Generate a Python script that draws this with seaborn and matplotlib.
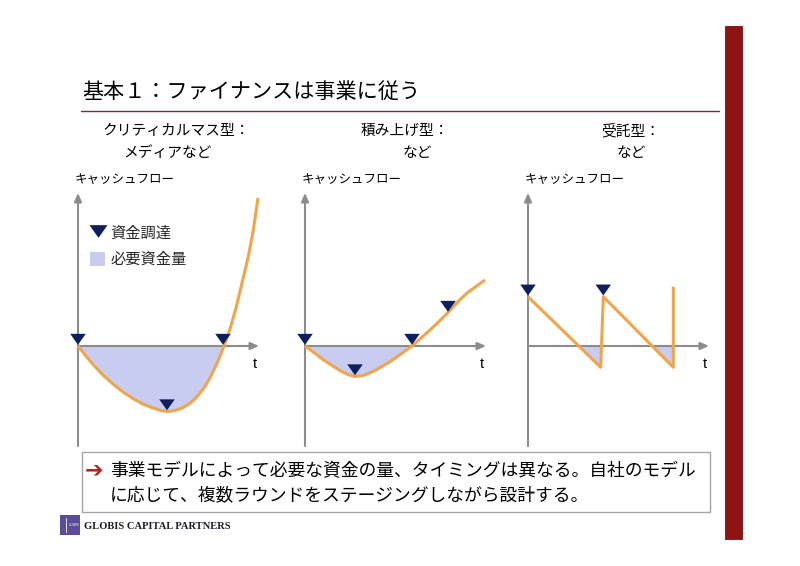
import numpy as np
import pandas as pd
import matplotlib
matplotlib.use("Agg")
import matplotlib.pyplot as plt
import seaborn as sns
from matplotlib.patches import Rectangle, Patch
from matplotlib.lines import Line2D
from matplotlib.path import Path
from matplotlib.markers import MarkerStyle

# ---------------- data ----------------
title_text = "基本１：ファイナンスは事業に従う"
panel_titles = ["クリティカルマス型：", "積み上げ型：", "受託型："]
panel_subtitles = ["メディアなど", "など", "など"]
y_label = "キャッシュフロー"
x_label = "t"
legend_labels = ["資金調達", "必要資金量"]
message_lines = [
    "事業モデルによって必要な資金の量、タイミングは異なる。自社のモデル",
    "に応じて、複数ラウンドをステージングしながら設計する。",
]
company = "GLOBIS CAPITAL PARTNERS"

# critical-mass type
crit_t = [0, 0.8, 1.6, 2.5, 3.5, 4.5, 5.5, 6.5, 7.5, 8.3, 9.0, 9.7, 10.4, 11.1,
          11.8, 12.6, 13.3, 14.0, 14.6, 15.2, 15.8, 16.4, 17.0, 17.5, 18.0]
crit_cf = [0, -1.0, -1.95, -2.9, -3.8, -4.6, -5.25, -5.8, -6.2, -6.45, -6.55, -6.45,
           -6.2, -5.8, -5.2, -4.2, -3.0, -1.5, 0, 1.7, 3.8, 6.3, 8.8, 11.4, 14.8]
crit_raise_t = [0, 8.9, 14.5]
crit_raise_cf = [0, -6.55, 0]

# stacking type
stack_t = [0, 0.9, 1.8, 2.7, 3.5, 4.3, 5.0, 5.8, 6.8, 7.7, 8.6, 9.6, 10.7, 11.6,
           12.5, 13.5, 14.4, 15.3, 16.2, 17.1, 18.0]
stack_cf = [0, -0.65, -1.35, -1.95, -2.45, -2.85, -3.05, -2.95, -2.55, -2.05, -1.5,
            -0.8, 0, 0.8, 1.6, 2.55, 3.45, 4.45, 5.3, 5.95, 6.6]
stack_raise_t = [0, 5.0, 10.7, 14.3]
stack_raise_cf = [0, -3.05, 0, 3.3]

# contract type
contract_t = [0, 7.27, 7.53, 14.53, 14.53]
contract_cf = [4.93, -2.13, 4.93, -2.13, 5.93]
contract_raise_t = [0, 7.53]
contract_raise_cf = [4.93, 4.93]

panels = [
    (crit_t, crit_cf, crit_raise_t, crit_raise_cf),
    (stack_t, stack_cf, stack_raise_t, stack_raise_cf),
    (contract_t, contract_cf, contract_raise_t, contract_raise_cf),
]

# ---------------- style ----------------
sns.set_style("white")
plt.rcParams["font.family"] = ["Noto Sans CJK JP", "DejaVu Sans"]

ORANGE = "#F0A54A"
FILL = "#C9CCF1"
NAVY = "#0E1F5E"
AXIS = "#8C8C8C"
DARKRED = "#8E1414"

W, H = 800, 566
fig = plt.figure(figsize=(8, 5.66), dpi=100)
fig.patch.set_facecolor("white")


def fx(x):
    return x / W


def fy(y):
    return 1 - y / H


# red vertical bar on the right
fig.patches.append(Rectangle((fx(724.5), fy(539)), 17 / W, (539 - 26) / H,
                             transform=fig.transFigure, facecolor=DARKRED,
                             edgecolor="#7a1010", lw=0.6, zorder=1))
# title + underline
fig.text(fx(82), fy(92), title_text, fontsize=15.2, ha="left", va="center", color="black")
fig.add_artist(Line2D([fx(80.7), fx(719.3)], [fy(110.5), fy(110.5)],
                      transform=fig.transFigure, color="#8B2525", lw=1.0))

# panel titles
title_cx = [176.5, 405, 631]
sub_cx = [167.5, 417.5, 631.5]
for i in range(3):
    fig.text(fx(title_cx[i]), fy(131), panel_titles[i], fontsize=10.6,
             ha="center", va="center", color="black")
    fig.text(fx(sub_cx[i]), fy(152.5), panel_subtitles[i], fontsize=10.6,
             ha="center", va="center", color="black")

# funding marker: downward triangle with its tip at the data point
tri_path = Path([(-0.64, 1.0), (0.64, 1.0), (0.0, 0.1), (-0.64, 1.0)],
                [Path.MOVETO, Path.LINETO, Path.LINETO, Path.CLOSEPOLY])
tri_marker = MarkerStyle(tri_path)

origins = [78, 305, 528]
for i, (t, cf, rt, rcf) in enumerate(panels):
    ox = origins[i]
    ax = fig.add_axes([fx(ox - 10), fy(450), 200 / W, 265 / H])
    ax.set_xlim(-1, 19)
    ax.set_ylim(-10.4, 16.1)
    ax.axis("off")
    ax.patch.set_alpha(0)

    t_arr = np.asarray(t, dtype=float)
    cf_arr = np.asarray(cf, dtype=float)
    ax.fill_between(t_arr, cf_arr, 0, where=cf_arr <= 0, interpolate=True,
                    color=FILL, linewidth=0, zorder=1)

    # axes with arrows
    ax.annotate("", xy=(0, 15.3), xytext=(0, -10.0),
                arrowprops=dict(arrowstyle="-|>,head_length=0.5,head_width=0.22",
                                color=AXIS, lw=1.5, shrinkA=0, shrinkB=0),
                zorder=2, annotation_clip=False)
    ax.annotate("", xy=(18.1, 0), xytext=(0, 0),
                arrowprops=dict(arrowstyle="-|>,head_length=0.5,head_width=0.22",
                                color=AXIS, lw=1.5, shrinkA=0, shrinkB=0),
                zorder=2, annotation_clip=False)

    df = pd.DataFrame({"t": t, "cf": cf})
    sns.lineplot(data=df, x="t", y="cf", sort=False, estimator=None,
                 color=ORANGE, linewidth=2.2, ax=ax, zorder=3)
    for ln in ax.lines:
        ln.set_solid_capstyle("butt")
        ln.set_solid_joinstyle("round")

    rdf = pd.DataFrame({"t": rt, "cf": rcf})
    sns.scatterplot(data=rdf, x="t", y="cf", marker=tri_marker, s=17.5 ** 2,
                    color=NAVY, edgecolor="none", linewidth=0, ax=ax, zorder=4,
                    clip_on=False)

    ax.text(17.7, -1.75, x_label, fontsize=10.5, ha="center", va="center",
            family=["Liberation Sans"], color="black")
    ax.text(-0.35, 16.6, y_label, fontsize=9, ha="left", va="center",
            color="black", clip_on=False)

    if i == 0:
        leg_tri = MarkerStyle(Path([(-0.64, 0.45), (0.64, 0.45), (0.0, -0.45), (-0.64, 0.45)],
                                   [Path.MOVETO, Path.LINETO, Path.LINETO, Path.CLOSEPOLY]))
        handles = [
            Line2D([], [], linestyle="None", marker=leg_tri, markersize=13,
                   color=NAVY, markeredgewidth=0),
            Patch(facecolor=FILL, edgecolor="none"),
        ]
        ax.legend(handles, legend_labels, loc="upper left",
                  bbox_to_anchor=(fx(90), fy(224.5)), bbox_transform=fig.transFigure,
                  frameon=False, fontsize=11, borderpad=0, borderaxespad=0,
                  handlelength=1.0, handleheight=1.0, handletextpad=0.35,
                  labelspacing=0.62)

# message box
fig.patches.append(Rectangle((fx(81.7), fy(511.7)), (710 - 81.7) / W, (511.7 - 451.7) / H,
                             transform=fig.transFigure, facecolor="white",
                             edgecolor="#A6A6A6", lw=1.0, zorder=1))
fig.text(fx(94), fy(471), "\u2794", fontsize=16, ha="center", va="center",
         color="#B8231B", family=["DejaVu Sans"], fontweight="bold")
fig.text(fx(110), fy(471.5), message_lines[0], fontsize=12.8, ha="left", va="center",
         color="black")
fig.text(fx(110), fy(495), message_lines[1], fontsize=12.8, ha="left", va="center",
         color="black")

# logo
fig.patches.append(Rectangle((fx(60), fy(535)), 20 / W, 20 / H, transform=fig.transFigure,
                             facecolor="#5B4B98", edgecolor="none", zorder=1))
fig.add_artist(Line2D([fx(66), fx(66)], [fy(532), fy(518)], transform=fig.transFigure,
                      color="white", lw=0.6))
fig.text(fx(69), fy(525), "GLOBIS", fontsize=2.2, color="white", ha="left", va="center",
         family=["DejaVu Sans"])
fig.text(fx(84.5), fy(526.5), company, fontsize=7.6, ha="left", va="center",
         family=["Liberation Serif"], fontweight="bold", color="#1c1c2a")

fig.savefig("out.png", dpi=100, facecolor="white")
